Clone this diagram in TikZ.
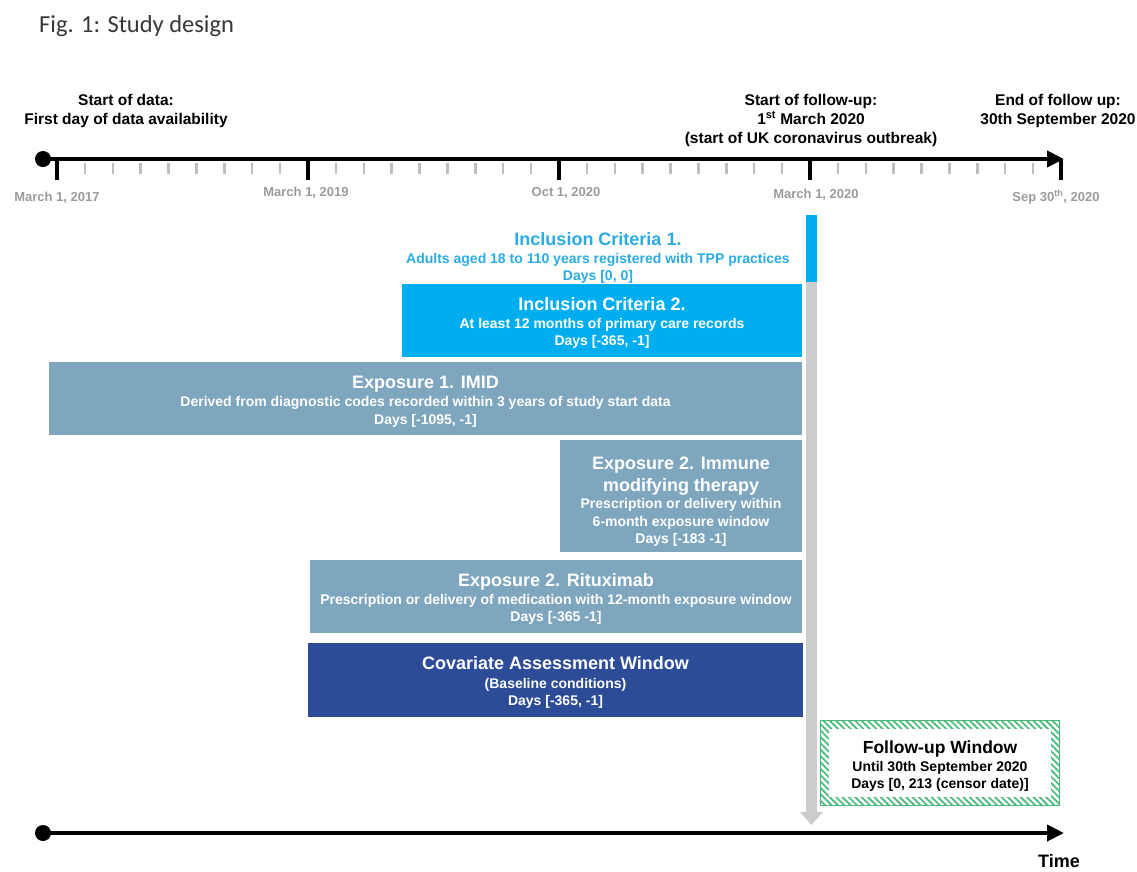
\documentclass[tikz,border=0pt]{standalone}
\usepackage{fontspec}
\setmainfont{Liberation Sans}
\newfontfamily\capfont{Carlito}
\usetikzlibrary{arrows.meta,patterns.meta,backgrounds}
\definecolor{incblue}{RGB}{0,174,239}
\definecolor{inctext}{RGB}{42,172,226}
\definecolor{expfill}{RGB}{126,166,191}
\definecolor{covfill}{RGB}{44,76,151}
\definecolor{vgrey}{RGB}{204,204,204}
\definecolor{ticklbl}{RGB}{155,155,155}
\definecolor{minortick}{RGB}{190,190,190}
\definecolor{fugreen}{RGB}{70,185,120}
\definecolor{figgrey}{RGB}{55,55,55}
\newcommand\boxttl[2]{{\fontsize{18}{18}\selectfont\rule{0pt}{#1pt}#2}}
\begin{document}
\begin{tikzpicture}[x=1pt,y=-1pt,
  lbl/.style={inner sep=0, align=center, font=\fontsize{15.5}{19}\selectfont\bfseries},
  ticklabel/.style={inner sep=0, text=ticklbl, font=\fontsize{13}{13}\selectfont\bfseries},
  dotn/.style={circle, fill=black, inner sep=0, minimum size=16},
  axisline/.style={line width=4, -{Triangle[width=16pt,length=17pt]}},
  majortick/.style={line width=3.5},
  minortick/.style={line width=2.5, draw=minortick},
  boxn/.style={inner sep=0, align=center, text=white, font=\fontsize{14}{17}\selectfont\bfseries},
  vbar/.style={line width=11, draw=vgrey, -{Triangle[width=22pt,length=13pt]}}
]
\useasboundingbox (0,0) rectangle (1137,871);

% title
\node[anchor=base west, inner sep=0, text=figgrey, font=\capfont\fontsize{24.5}{24.5}\selectfont] (title) at (39,32) {Fig. 1: Study design};

% top axis
\node[dotn] (d1) at (43,159) {};
\coordinate (e1) at (1064,159);
\draw[axisline] (d1.center) -- (e1);
\foreach \k in {0,...,4} \draw[majortick] ({57+251*\k},159) -- ++(0,21);
\foreach \k in {0,...,3} \foreach \j in {1,...,8} \draw[minortick] ({57+251*\k+251/9*\j},163) -- ++(0,11);

% tick labels
\node[ticklabel] (t1) at (57,198) {March 1, 2017};
\node[ticklabel] (t2) at (306,193) {March 1, 2019};
\node[ticklabel] (t3) at (566,193) {Oct 1, 2020};
\node[ticklabel] (t4) at (816,195) {March 1, 2020};
\node[ticklabel] (t5) at (1056,197) {Sep 30\textsuperscript{th}, 2020};

% top labels
\node[lbl] (l1) at (126,111) {Start of data:\\First day of data availability};
\node[lbl] (l2) at (811,120) {Start of follow-up:\\1\textsuperscript{st} March 2020\\(start of UK coronavirus outbreak)};
\node[lbl] (l3) at (1058,111) {End of follow up:\\30th September 2020};

% vertical follow-up start bar
\coordinate (vtop) at (811.5,215);
\coordinate (vblue) at (811.5,282);
\coordinate (vbot) at (811.5,825);
\draw[vbar] (vtop) -- (vbot);
\draw[line width=11, draw=incblue] (vtop) -- (vblue);

% Inclusion criteria 1 (text only)
\node[boxn, text=inctext] (inc1) at (598,257.5) {\boxttl{0}{Inclusion Criteria 1.}\\[1pt]Adults aged 18 to 110 years registered with TPP practices\\Days [0, 0]};

% boxes
\node[boxn, fill=incblue, minimum width=400, minimum height=73] (inc2) at (602,320.5)
  {\boxttl{18}{Inclusion Criteria 2.}\\[1.5pt]At least 12 months of primary care records\\Days [-365, -1]};
\node[boxn, fill=expfill, minimum width=753, minimum height=73] (exp1) at (425.5,398)
  {\boxttl{19}{Exposure 1. IMID}\\[1pt]Derived from diagnostic codes recorded within 3 years of study start data\\[1pt]Days [-1095, -1]};
\node[boxn, fill=expfill, minimum width=242, minimum height=112] (exp2) at (681,496)
  {\boxttl{23}{Exposure 2. Immune}\\[5pt]\boxttl{0}{modifying therapy}\\[0.5pt]Prescription or delivery within\\[0.5pt]6-month exposure window\\Days [-183 -1]};
\node[boxn, fill=expfill, minimum width=492, minimum height=73] (rit) at (556,596)
  {\boxttl{19}{Exposure 2. Rituximab}\\[1pt]Prescription or delivery of medication with 12-month exposure window\\Days [-365 -1]};
\node[boxn, fill=covfill, minimum width=495, minimum height=74] (cov) at (555.5,679.5)
  {\boxttl{19}{Covariate Assessment Window}\\[2pt](Baseline conditions)\\Days [-365, -1]};

% follow-up window
\node[boxn, text=black, minimum width=238, minimum height=85] (fu) at (940,763)
  {{\fontsize{17.5}{18}\selectfont\rule{0pt}{18pt}Follow-up Window}\\[1pt]Until 30th September 2020\\Days [0, 213 (censor date)]};
\begin{scope}[on background layer]
  \fill[pattern={Lines[angle=-45,distance=4.5pt,line width=1.7pt]}, pattern color=fugreen] (fu.north west) rectangle (fu.south east);
  \fill[white] ([xshift=8pt,yshift=-9pt]fu.north west) rectangle ([xshift=-8pt,yshift=9pt]fu.south east);
  \draw[fugreen, line width=0.8] (fu.north west) rectangle (fu.south east);
\end{scope}

% bottom time axis
\node[dotn] (d2) at (43,833) {};
\coordinate (e2) at (1064,833);
\draw[axisline] (d2.center) -- (e2);
\node[inner sep=0, font=\fontsize{18}{18}\selectfont\bfseries] (time) at (1059,861) {Time};
\end{tikzpicture}
\end{document}
